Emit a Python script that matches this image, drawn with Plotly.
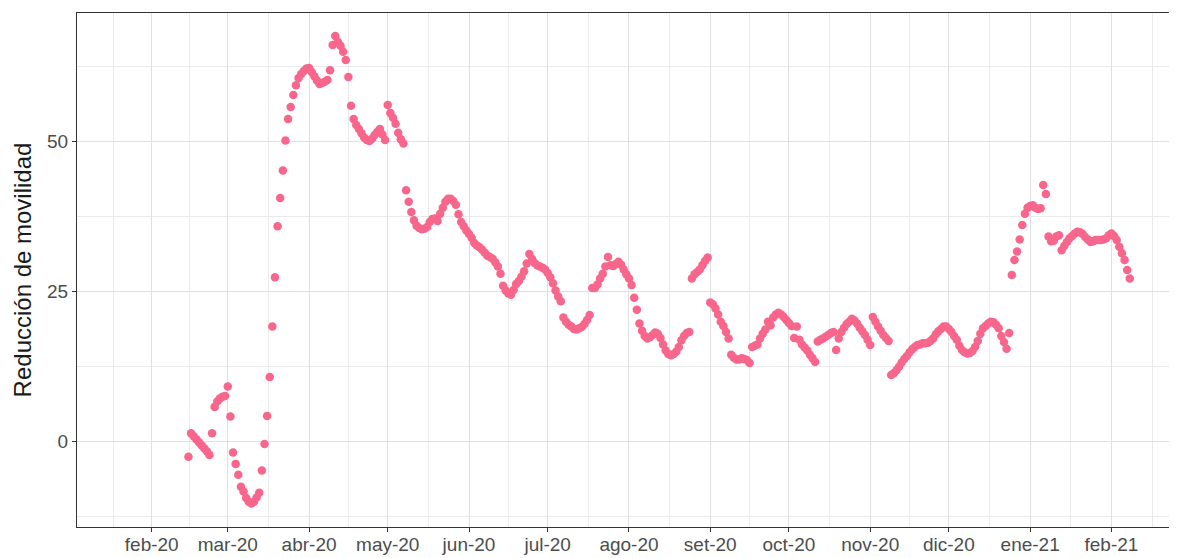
import pandas as pd
import plotly.graph_objects as go

# Daily values of "Reducción de movilidad", grouped by month (first value = first day listed)
feb_2020 = [-2.5, 1.4, 0.9, 0.4, -0.1, -0.6, -1.1, -1.6, -2.2, 1.4, 5.8, 6.7, 7.2, 7.5, 7.6]  # from 15 Feb
mar_2020 = [9.2, 4.2, -1.8, -3.7, -5.5, -7.5, -8.3, -9.4, -10.0, -10.3, -10.0, -9.3, -8.5, -4.8, -0.4,
            4.3, 10.8, 19.2, 27.4, 35.9, 40.6, 45.2, 50.2, 53.8, 55.8, 57.8, 59.4, 60.6, 61.3, 61.8, 62.2]
abr_2020 = [62.3, 61.6, 60.9, 60.2, 59.6, 59.8, 60.0, 60.3, 61.9, 66.1, 67.6, 66.6, 66.0, 65.0, 63.6,
            60.8, 56.0, 53.8, 52.8, 52.1, 51.4, 50.7, 50.3, 50.1, 50.5, 51.1, 51.6, 52.1, 51.2, 50.3]
may_2020 = [56.1, 54.8, 54.0, 53.0, 51.5, 50.4, 49.7, 41.9, 40.0, 38.3, 36.9, 36.0, 35.6, 35.4, 35.5, 35.8,
            36.6, 37.1, 37.2, 36.8, 38.0, 39.0, 40.0, 40.5, 40.5, 40.1, 39.5, 37.9, 36.6, 35.9, 35.2]
jun_2020 = [34.6, 34.0, 33.1, 32.7, 32.4, 32.0, 31.5, 31.0, 30.8, 30.5, 29.9, 29.2, 28.0, 26.0, 25.2,
            24.7, 24.5, 25.3, 26.3, 26.8, 27.5, 28.4, 29.7, 31.3, 30.5, 29.8, 29.4, 29.2, 29.0, 28.7]
jul_2020 = [28.1, 27.4, 26.4, 25.2, 24.2, 23.4, 20.7, 20.0, 19.5, 19.2, 18.8, 18.7, 18.9, 19.1, 19.6, 20.3,
            21.1, 25.6, 25.6, 26.2, 27.2, 28.0, 29.2, 30.8, 29.4, 29.3, 29.6, 30.0, 29.5, 28.7, 27.9]
ago_2020 = [27.2, 26.1, 24.0, 22.0, 19.7, 18.5, 17.6, 17.2, 17.4, 17.8, 18.2, 18.0, 17.3, 16.2, 15.2, 14.6,
            14.4, 14.6, 15.0, 15.8, 16.9, 17.6, 18.1, 18.3, 27.2, 27.9, 28.3, 28.7, 29.4, 30.1, 30.7]
set_2020 = [23.2, 22.9, 22.2, 21.2, 20.0, 19.3, 18.3, 17.2, 14.5, 14.0, 13.7, 13.7, 13.9, 13.8, 13.6,
            13.1, 15.8, 16.0, 16.2, 17.2, 18.0, 18.7, 20.0, 19.4, 20.7, 21.2, 21.5, 21.2, 20.8, 20.3]
oct_2020 = [19.8, 19.3, 17.3, 19.2, 17.0, 16.2, 15.7, 15.2, 14.5, 13.9, 13.3, 16.7, 17.0, 17.2, 17.5, 17.8,
            18.1, 18.3, 15.3, 17.2, 18.3, 19.0, 19.6, 20.0, 20.5, 20.2, 19.7, 19.0, 18.4, 17.8, 17.0]
nov_2020 = [16.1, 20.8, 20.0, 19.2, 18.5, 17.8, 17.3, 16.8, 11.1, 11.4, 11.9, 12.5, 13.2, 13.8, 14.3,
            14.9, 15.4, 15.8, 16.1, 16.2, 16.4, 16.4, 16.5, 16.8, 17.2, 17.9, 18.4, 18.8, 19.2, 19.2]
dic_2020 = [18.8, 18.3, 17.6, 17.0, 16.0, 15.3, 14.9, 14.7, 14.8, 15.1, 15.8, 16.8, 18.0, 18.9, 19.3, 19.7,
            20.0, 19.9, 19.5, 18.9, 17.6, 16.6, 15.5, 18.1, 27.8, 30.3, 31.7, 33.7, 36.1, 38.0, 39.0]
ene_2021 = [39.3, 39.4, 39.0, 38.8, 38.9, 42.8, 41.3, 34.2, 33.4, 33.5, 34.2, 34.4, 31.9, 32.6, 33.3, 33.9,
            34.3, 34.7, 35.0, 34.9, 34.6, 34.1, 33.7, 33.3, 33.4, 33.6, 33.6, 33.6, 33.7, 33.9, 34.4]
feb_2021 = [34.7, 34.3, 33.6, 32.5, 31.4, 30.3, 28.6, 27.2]

month_starts = ["2020-02-15", "2020-03-01", "2020-04-01", "2020-05-01", "2020-06-01", "2020-07-01",
                "2020-08-01", "2020-09-01", "2020-10-01", "2020-11-01", "2020-12-01", "2021-01-01",
                "2021-02-01"]
month_values = [feb_2020, mar_2020, abr_2020, may_2020, jun_2020, jul_2020, ago_2020, set_2020,
                oct_2020, nov_2020, dic_2020, ene_2021, feb_2021]

# Axis ticks
x_tick_dates = ["2020-02-01", "2020-03-01", "2020-04-01", "2020-05-01", "2020-06-01", "2020-07-01",
                "2020-08-01", "2020-09-01", "2020-10-01", "2020-11-01", "2020-12-01", "2021-01-01",
                "2021-02-01"]
x_tick_labels = ["feb-20", "mar-20", "abr-20", "may-20", "jun-20", "jul-20", "ago-20", "set-20",
                 "oct-20", "nov-20", "dic-20", "ene-21", "feb-21"]
y_ticks = [0, 25, 50]
y_minor = [-12.5, 12.5, 37.5, 62.5]

dates, values = [], []
for start, vals in zip(month_starts, month_values):
    dates.extend(pd.date_range(start, periods=len(vals), freq="D"))
    values.extend(vals)

# minor x grid lines halfway between major breaks (ggplot style)
maj = pd.to_datetime(x_tick_dates)
x_minor = [maj[0] - (maj[1] - maj[0]) / 2]
x_minor += [maj[i] + (maj[i + 1] - maj[i]) / 2 for i in range(len(maj) - 1)]
x_minor += [maj[-1] + (maj[-1] - maj[-2]) / 2]

fig = go.Figure()
fig.add_trace(go.Scatter(
    x=dates, y=values, mode="markers",
    marker=dict(color="#F8668C", size=8.5, line=dict(width=0)),
    showlegend=False,
))

grid_major = "#e0e0e0"
grid_minor = "#eaeaea"
border = "#333333"
# page body has an 8px margin: figure is shifted by 8px, margins compensate
fig.update_layout(
    width=1169, height=550,
    margin=dict(l=69, r=0, t=5, b=31),
    paper_bgcolor="white", plot_bgcolor="white",
    font=dict(family="Liberation Sans, Arial, sans-serif"),
    xaxis=dict(
        type="date",
        range=["2020-01-03 12:00", "2021-02-26 00:00"],
        tickmode="array", tickvals=x_tick_dates, ticktext=x_tick_labels,
        tickfont=dict(size=19, color="#4d4d4d"),
        ticks="outside", ticklen=4, tickwidth=1.3, tickcolor=border,
        ticklabelstandoff=-4,
        showgrid=True, gridcolor=grid_major, gridwidth=1.3,
        minor=dict(tickmode="array", tickvals=x_minor, showgrid=True, gridcolor=grid_minor,
                   gridwidth=1, ticks=""),
        showline=True, linecolor=border, linewidth=1.3, mirror=True,
        zeroline=False, automargin=False,
    ),
    yaxis=dict(
        range=[-14.22, 71.45],
        tickmode="array", tickvals=y_ticks, ticktext=[str(v) for v in y_ticks],
        tickfont=dict(size=19, color="#4d4d4d"),
        ticks="outside", ticklen=4, tickwidth=1.3, tickcolor=border,
        showgrid=True, gridcolor=grid_major, gridwidth=1.3,
        minor=dict(tickmode="array", tickvals=y_minor, showgrid=True, gridcolor=grid_minor,
                   gridwidth=1, ticks=""),
        showline=True, linecolor=border, linewidth=1.3, mirror=False,
        zeroline=False, automargin=False,
        title=dict(text="Reducción de movilidad", font=dict(size=24, color="#1a1a1a"), standoff=8),
    ),
)

fig.write_html("out.html")
